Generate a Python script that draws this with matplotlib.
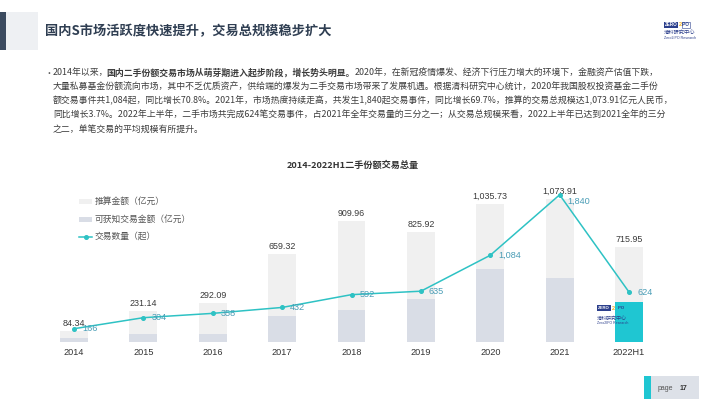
import matplotlib
matplotlib.use("Agg")
import matplotlib.pyplot as plt
import numpy as np
from matplotlib.patches import Rectangle

plt.rcParams["font.family"] = ["Noto Sans CJK SC", "DejaVu Sans"]

years = ["2014", "2015", "2016", "2017", "2018", "2019", "2020", "2021", "2022H1"]
total_amount = [84.34, 231.14, 292.09, 659.32, 909.96, 825.92, 1035.73, 1073.91, 715.95]
known_amount = [32, 63, 62, 195, 238, 322, 550, 482, 298]
deal_count = [166, 304, 358, 432, 592, 635, 1084, 1840, 624]

legend_labels = ["推算金额（亿元）", "可获知交易金额（亿元）", "交易数量（起）"]

title = "国内S市场活跃度快速提升，交易总规模稳步扩大"
chart_title = "2014-2022H1二手份额交易总量"
paragraph = [
    [("2014年以来，", False),
     ("国内二手份额交易市场从萌芽期进入起步阶段，增长势头明显。", True),
     ("2020年，在新冠疫情爆发、经济下行压力增大的环境下，金融资产估值下跌，", False)],
    [("大量私募基金份额流向市场，其中不乏优质资产，供给端的爆发为二手交易市场带来了发展机遇。"
      "根据清科研究中心统计，2020年我国股权投资基金二手份", False)],
    [("额交易事件共1,084起，同比增长70.8%。2021年，市场热度持续走高，共发生1,840起交易事件，"
      "同比增长69.7%，推算的交易总规模达1,073.91亿元人民币，", False)],
    [("同比增长3.7%。2022年上半年，二手市场共完成624笔交易事件，占2021年全年交易量的三分之一；"
      "从交易总规模来看，2022上半年已达到2021全年的三分", False)],
    [("之二，单笔交易的平均规模有所提升。", False)],
]

W, H = 710, 399
LIGHT = "#f0f0f0"
GREYBLUE = "#d9dde6"
CYAN = "#1fc6d2"
LINE = "#2ec2c4"
NAVY = "#3b4a5f"
NUM_FONT = ["Liberation Sans", "Noto Sans CJK SC"]


def fx(x):
    return x / W


def fy(y):
    return 1 - y / H


def rect(x0, y0, x1, y1, **kw):
    fig.patches.append(Rectangle((fx(x0), fy(y1)), fx(x1) - fx(x0), fy(y0) - fy(y1),
                                 transform=fig.transFigure, **kw))


fig = plt.figure(figsize=(W / 100, H / 100), dpi=100)

# header block
rect(0, 12, 6, 50, color=NAVY, lw=0)
rect(6, 12, 38, 50, color="#eef0f3", lw=0)
fig.text(fx(45), fy(31), title, fontsize=9.5, fontweight="bold", color="#2f3e52", va="center")

# logo top right
rect(664, 22, 678, 28, color="#2c3f8c", lw=0)
fig.text(fx(671), fy(25), "ZERO", fontsize=3.3, color="white", ha="center", va="center",
         family=NUM_FONT, fontweight="bold")
fig.text(fx(680), fy(25), "2", fontsize=4, color="#f2b01e", ha="center", va="center",
         family=NUM_FONT, fontweight="bold")
rect(682, 22, 690, 28, facecolor="white", edgecolor="#2c3f8c", lw=0.4)
fig.text(fx(686), fy(25), "IPO", fontsize=3.3, color="#2c3f8c", ha="center", va="center",
         family=NUM_FONT, fontweight="bold")
fig.text(fx(664), fy(33), "清科研究中心", fontsize=3.8, color="#2c3f8c", va="center")
fig.text(fx(664), fy(38), "Zero2IPO Research", fontsize=2.6, color="#2c3f8c", va="center",
         family=NUM_FONT)

# paragraph with mixed bold runs
renderer = fig.canvas.get_renderer()
fig.text(fx(45), fy(73), "•", fontsize=6.4, color="#555555", va="center")
for i, line in enumerate(paragraph):
    x = 53
    y = 73 + i * 14
    for txt, bold in line:
        t = fig.text(fx(x), fy(y), txt, fontsize=6.4, color="#3c3c3c", va="center",
                     fontweight="bold" if bold else "normal")
        x += t.get_window_extent(renderer).width
        if txt.endswith("，"):
            x -= 2

# chart
fig.text(fx(353), fy(165.5), chart_title, fontsize=6.6, fontweight="bold", color="#333333",
         ha="center", va="center")

x = np.arange(len(years))
ax = fig.add_axes([fx(39.3), fy(342), fx(663.7) - fx(39.3), 160 / H])
ax.bar(x, total_amount, width=0.4, color=LIGHT, zorder=1)
known_colors = [GREYBLUE] * (len(years) - 1) + [CYAN]
ax.bar(x, known_amount, width=0.4, color=known_colors, zorder=2)
ax.set_xlim(-0.5, len(years) - 0.5)
ax.set_ylim(0, 1200)
ax.set_xticks(x, years, fontsize=6.6, color="#333333", family=NUM_FONT)
ax.tick_params(axis="x", length=0, pad=4)
ax.set_yticks([])
for s in ax.spines.values():
    s.set_visible(False)
for xi, v in zip(x, total_amount):
    ax.annotate(f"{v:,.2f}", (xi, v), xytext=(0, 3), textcoords="offset pixels",
                ha="center", va="bottom", fontsize=6.4, color="#3a3a3a", family=NUM_FONT)

ax2 = ax.twinx()
ax2.set_ylim(0, 2000)
ax2.plot(x, deal_count, color=LINE, lw=1.1, marker="o", ms=2.6, zorder=3)
ax2.set_yticks([])
for s in ax2.spines.values():
    s.set_visible(False)
for xi, v in zip(x, deal_count):
    dy = -7 if v == max(deal_count) else 0
    ax2.annotate(f"{v:,}", (xi, v), xytext=(8, dy), textcoords="offset pixels",
                 ha="left", va="center", fontsize=6.6, color="#4a9db6", family=NUM_FONT)

# legend
for i, lab in enumerate(legend_labels):
    y = 201.7 + i * 17.5
    if i < 2:
        rect(79, y - 2.5, 92, y + 2.5, color=[LIGHT, GREYBLUE][i], lw=0)
    else:
        fig.lines.append(plt.Line2D([fx(79), fx(85.5), fx(92)], [fy(y)] * 3,
                                    transform=fig.transFigure, color=LINE, lw=1.1,
                                    marker="o", markevery=[1], ms=2.6))
    fig.text(fx(95), fy(y), lab, fontsize=6.3, color="#555555", va="center")

# watermark logo over last bar
rect(597, 305, 611, 311, color="#2c3f8c", lw=0, zorder=5)
fig.text(fx(604), fy(308), "ZERO", fontsize=3.1, color="white", ha="center", va="center",
         family=NUM_FONT, fontweight="bold", zorder=6)
fig.text(fx(613.5), fy(308), "2", fontsize=4, color="#f2b01e", ha="center", va="center",
         family=NUM_FONT, fontweight="bold", zorder=6)
fig.text(fx(621), fy(308), "IPO", fontsize=3.1, color="#2c3f8c", ha="center", va="center",
         family=NUM_FONT, fontweight="bold", zorder=6)
fig.text(fx(597), fy(318), "清科研究中心", fontsize=3.6, color="#2c3f8c", va="center", zorder=6)
fig.text(fx(597), fy(323.5), "Zero2IPO Research", fontsize=2.5, color="#2c3f8c", va="center",
         family=NUM_FONT, zorder=6)

# footer
rect(644, 376, 651, 399, color=CYAN, lw=0)
rect(651, 376, 699, 399, color="#dde1e8", lw=0)
fig.text(fx(658), fy(388), "page", fontsize=5, color="#555555", va="center", family=NUM_FONT)
fig.text(fx(680), fy(388), "17", fontsize=5, color="#333333", va="center", family=NUM_FONT,
         fontweight="bold")

fig.savefig("out.png", dpi=100)
